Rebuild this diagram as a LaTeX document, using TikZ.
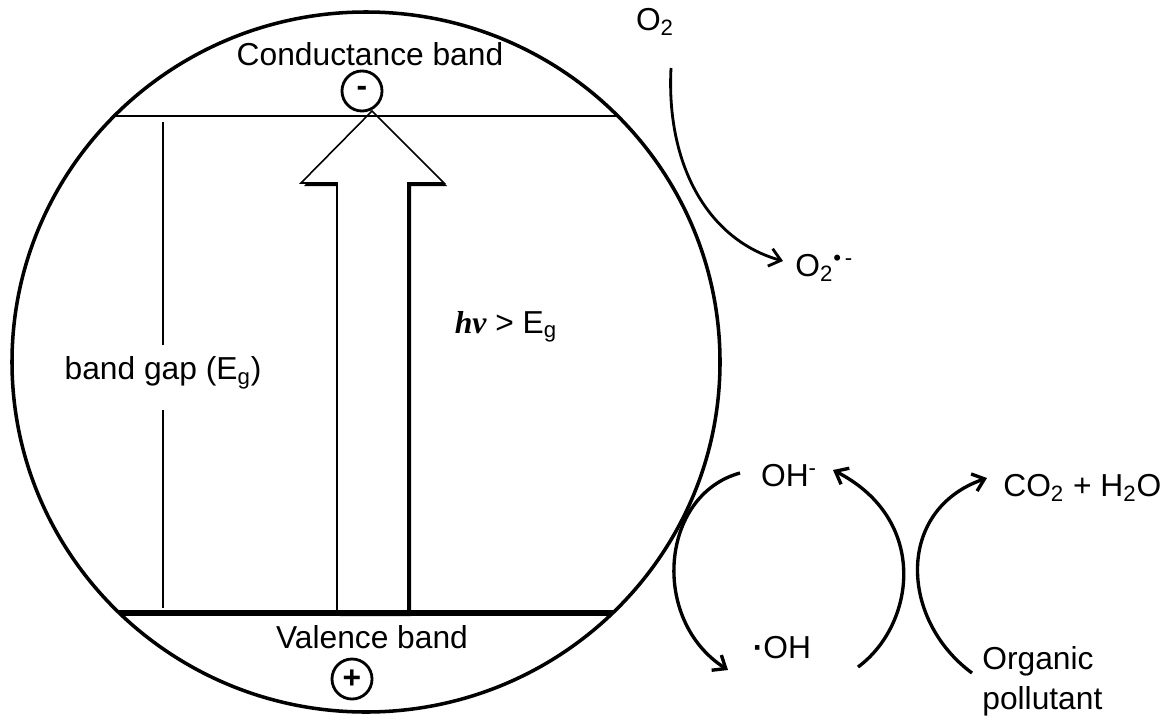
\documentclass[tikz,border=0pt]{standalone}
\usepackage{fontspec}
\setmainfont{Liberation Sans}
\newfontfamily\hvfont{Liberation Serif}
\usetikzlibrary{arrows.meta}

\begin{document}
\begin{tikzpicture}[x=0.567pt,y=-0.567pt,>={Straight Barb[length=2.2mm,width=3.6mm]},
  lbl/.style={inner sep=0pt,font=\fontsize{18}{22.7}\selectfont},
  charge/.style={circle,draw,line width=1.6pt,minimum size=22.7pt,inner sep=0pt,font=\fontsize{18}{20}\selectfont\bfseries},
  rxn/.style={->,line width=1.9pt}]
  \useasboundingbox (0,0) rectangle (1162,717);
  % particle
  \draw[line width=2pt] (366,362) ellipse [x radius=354,y radius=350];
  % excitation arrow with shadow
  \fill[shift={(3,3)}] (337,613) -- (337,183) -- (301,183) -- (372,111) -- (444,183) -- (408,183) -- (408,613) -- cycle;
  \filldraw[fill=white,line width=0.9pt] (337,613) -- (337,183) -- (301,183) -- (372,111) -- (444,183) -- (408,183) -- (408,613) -- cycle;
  \begin{scope}
    \clip (366,362) ellipse [x radius=354,y radius=350];
    \draw[line width=1.6pt] (0,116) -- (760,116);
    \draw[line width=2.9pt] (0,613) -- (760,613);
  \end{scope}
  \node[charge] (elec) at (362,91) {-};
  \node[charge] (hole) at (352,679) {+};
  \node[lbl] (cb) at (370,54) {Conductance band};
  \node[lbl] (vb) at (372,637) {Valence band};
  \node[lbl] (gap) at (163,373) {band gap (E\textsubscript{g})};
  \coordinate (gt1) at (163,122);
  \coordinate (gt2) at (163,345);
  \coordinate (gb1) at (163,410);
  \coordinate (gb2) at (163,608);
  \draw[line width=1.3pt] (gt1) -- (gt2);
  \draw[line width=1.3pt] (gb1) -- (gb2);
  \node[lbl] (hv) at (506,327) {{\hvfont\bfseries\itshape hv} > E\textsubscript{g}};
  % reactions
  \node[lbl] (o2) at (655,22) {O\textsubscript{2}};
  \node[lbl,anchor=west] (sup) at (795,268) {O\textsubscript{2}\textsuperscript{•\,-}};
  \node[lbl] (ohm) at (789,476) {OH\textsuperscript{-}};
  \node[lbl] (oh) at (782,648) {\textbf{·}OH};
  \node[lbl,anchor=west] (co2) at (1003,488) {CO\textsubscript{2} + H\textsubscript{2}O};
  \node[lbl,anchor=north west,align=left] (org) at (982,646) {Organic\\pollutant};
  \coordinate (o2s) at (671,68);
  \coordinate (o2e) at (783,261);
  \coordinate (a1) at (740,473);
  \coordinate (a2) at (728,670);
  \coordinate (b1) at (858,667);
  \coordinate (b2) at (833,470);
  \coordinate (c1) at (972,673);
  \coordinate (c2) at (987,478);
  \draw[->,line width=1.6pt] (o2s) .. controls (666,165) and (708,240) .. (o2e);
  \draw[rxn] (a1) .. controls (660,495) and (650,620) .. (a2);
  \draw[rxn] (b1) .. controls (915,625) and (930,520) .. (b2);
  \draw[rxn] (c1) .. controls (900,620) and (895,510) .. (c2);
\end{tikzpicture}
\end{document}
